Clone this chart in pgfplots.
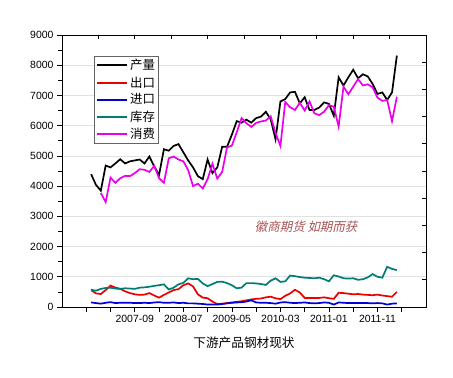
\documentclass[border=0pt]{standalone}
\usepackage{fontspec}
\setmainfont{Liberation Sans}
\newfontfamily\cjk{Noto Sans CJK SC}
\newfontfamily\cjkit[FakeSlant=0.22]{Noto Sans CJK SC}
\usepackage{pgfplots}
\pgfplotsset{compat=1.18}
\definecolor{tealc}{RGB}{0,125,115}
\definecolor{magc}{RGB}{235,0,235}
\definecolor{redc}{RGB}{235,0,0}
\definecolor{bluec}{RGB}{0,0,215}
\definecolor{wm}{RGB}{165,85,85}
\definecolor{gridc}{RGB}{225,225,225}
\definecolor{legc}{RGB}{100,100,100}
\begin{document}
\begin{tikzpicture}
\path (0,0) rectangle (453bp,378bp);
\begin{axis}[
  at={(62bp,71bp)}, anchor=south west,
  scale only axis, width=364bp, height=272bp,
  xmin=-5, xmax=70, ymin=0, ymax=9000,
  xtick={0,5,...,65},
  xticklabels={,,2007-09,,2008-07,,2009-05,,2010-03,,2011-01,,2011-11,},
  ytick={0,1000,...,9000},
  minor ytick={500,1500,...,8500},
  xtick pos=bottom, ytick pos=left,
  tick align=outside,
  major tick length=5bp, minor tick length=4bp,
  tick style={black, line width=0.7bp},
  axis line style={line width=0.8bp},
  ymajorgrids, grid style={gridc, line width=0.6bp},
  /pgf/number format/assume math mode=true,
  /pgf/number format/1000 sep={},
  ticklabel style={font=\fontsize{10.5}{12}\selectfont},
  xlabel={\cjk 下游产品钢材现状},
  xlabel style={font=\fontsize{12.7}{14}\selectfont, at={(axis description cs:0.5,0)}, anchor=center, yshift=-36bp},
  legend style={font=\fontsize{12.5}{13}\selectfont, draw=legc, line width=0.6bp,
    at={(rel axis cs:0.0887,0.924)}, anchor=north west, inner xsep=1.5bp, inner ysep=1.5bp, row sep=1.2bp},
  legend cell align=left,
  legend image code/.code={\draw[#1, line width=2bp] (0bp,0bp) -- (30bp,0bp);},
]
\addplot[black, line width=1.7bp] coordinates {(1,4395)(2,4040)(3,3850)(4,4680)(5,4620)(6,4750)(7,4890)(8,4750)(9,4820)(10,4850)(11,4880)(12,4750)(13,4980)(14,4650)(15,4370)(16,5220)(17,5170)(18,5330)(19,5390)(20,5120)(21,4850)(22,4620)(23,4330)(24,4230)(25,4880)(26,4430)(27,4620)(28,5300)(29,5300)(30,5700)(31,6150)(32,6100)(33,6200)(34,6100)(35,6250)(36,6300)(37,6460)(38,6210)(39,5550)(40,6800)(41,6880)(42,7100)(43,7120)(44,6740)(45,6940)(46,6520)(47,6520)(48,6600)(49,6770)(50,6720)(51,6330)(52,7600)(53,7330)(54,7600)(55,7850)(56,7570)(57,7700)(58,7630)(59,7380)(60,7050)(61,7100)(62,6850)(63,7100)(64,8320)};
\addlegendentry{\cjk 产量}
\addplot[redc, line width=1.7bp] coordinates {(1,560)(2,450)(3,430)(4,560)(5,710)(6,640)(7,600)(8,520)(9,460)(10,420)(11,400)(12,410)(13,460)(14,380)(15,310)(16,400)(17,480)(18,560)(19,590)(20,720)(21,780)(22,680)(23,420)(24,310)(25,290)(26,180)(27,100)(28,110)(29,130)(30,150)(31,170)(32,190)(33,220)(34,250)(35,270)(36,280)(37,320)(38,340)(39,290)(40,260)(41,370)(42,450)(43,570)(44,480)(45,300)(46,300)(47,300)(48,300)(49,320)(50,290)(51,270)(52,470)(53,460)(54,440)(55,420)(56,430)(57,410)(58,400)(59,390)(60,410)(61,380)(62,360)(63,340)(64,500)};
\addlegendentry{\cjk 出口}
\addplot[bluec, line width=1.7bp] coordinates {(1,150)(2,130)(3,110)(4,140)(5,160)(6,130)(7,140)(8,140)(9,140)(10,130)(11,130)(12,140)(13,130)(14,150)(15,160)(16,140)(17,140)(18,150)(19,130)(20,140)(21,120)(22,120)(23,110)(24,100)(25,80)(26,80)(27,80)(28,100)(29,120)(30,140)(31,150)(32,160)(33,180)(34,220)(35,150)(36,140)(37,140)(38,130)(39,110)(40,150)(41,160)(42,140)(43,130)(44,140)(45,150)(46,130)(47,120)(48,130)(49,150)(50,140)(51,80)(52,150)(53,140)(54,130)(55,130)(56,130)(57,130)(58,130)(59,120)(60,130)(61,120)(62,80)(63,110)(64,120)};
\addlegendentry{\cjk 进口}
\addplot[tealc, line width=1.7bp] coordinates {(1,570)(2,540)(3,600)(4,630)(5,640)(6,610)(7,600)(8,620)(9,610)(10,600)(11,640)(12,650)(13,670)(14,700)(15,720)(16,750)(17,580)(18,640)(19,750)(20,800)(21,950)(22,920)(23,930)(24,780)(25,690)(26,760)(27,830)(28,840)(29,790)(30,720)(31,620)(32,640)(33,790)(34,790)(35,780)(36,760)(37,730)(38,870)(39,950)(40,830)(41,850)(42,1040)(43,1020)(44,990)(45,970)(46,960)(47,950)(48,970)(49,920)(50,850)(51,1050)(52,1010)(53,950)(54,940)(55,950)(56,900)(57,920)(58,980)(59,1090)(60,1000)(61,970)(62,1330)(63,1260)(64,1220)};
\addlegendentry{\cjk 库存}
\addplot[magc, line width=1.7bp] coordinates {(3,3770)(4,3470)(5,4280)(6,4110)(7,4260)(8,4340)(9,4330)(10,4430)(11,4560)(12,4540)(13,4470)(14,4670)(15,4260)(16,4110)(17,4920)(18,4980)(19,4880)(20,4820)(21,4530)(22,4000)(23,4080)(24,3920)(25,4230)(26,4740)(27,4250)(28,4470)(29,5280)(30,5340)(31,5780)(32,6250)(33,6080)(34,5960)(35,6090)(36,6140)(37,6170)(38,6310)(39,5760)(40,5330)(41,6780)(42,6610)(43,6520)(44,6760)(45,6500)(46,6800)(47,6410)(48,6350)(49,6460)(50,6680)(51,6630)(52,5970)(53,7290)(54,7040)(55,7290)(56,7540)(57,7330)(58,7370)(59,7270)(60,6930)(61,6820)(62,6850)(63,6150)(64,6960)};
\addlegendentry{\cjk 消费}
\node[font=\fontsize{12.5}{14}\selectfont\cjkit, text=wm] at (axis cs:45.3,2650) {徽商期货 如期而获};
\end{axis}
\begin{axis}[
  at={(62bp,71bp)}, anchor=south west,
  scale only axis, width=364bp, height=272bp,
  xmin=0, xmax=10, ymin=0, ymax=10,
  xtick={1,...,9}, ytick={1,...,9},
  xticklabels={}, yticklabels={},
  xtick pos=right, ytick pos=right,
  tick align=inside, major tick length=4bp,
  tick style={black, line width=0.7bp},
  axis line style={draw=none},
]
\addplot[draw=none] coordinates {(0,0)};
\end{axis}
\end{tikzpicture}
\end{document}
